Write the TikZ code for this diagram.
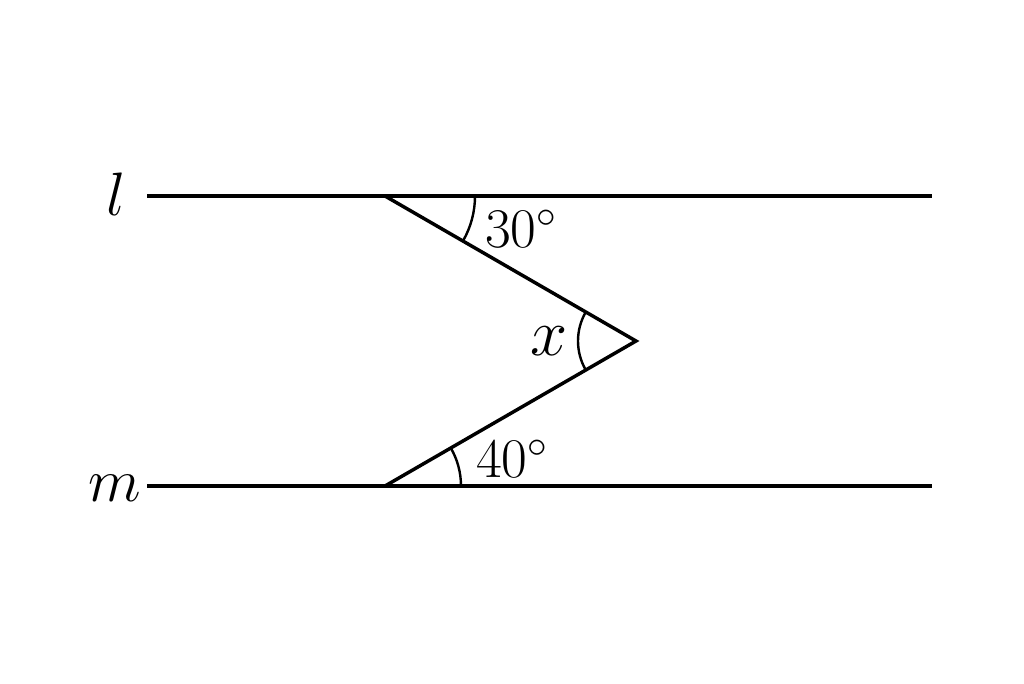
\documentclass[tikz,border=0pt]{standalone}
\usepackage{fix-cm}
\usepackage{amsmath}
\usepackage{tikz}

\tikzset{
  ruleline/.style={line width=2.6pt},
  anglearc/.style={line width=1.8pt},
  degtext/.style={inner sep=0pt,font=\fontsize{42}{44}\selectfont},
  lettext/.style={inner sep=0pt,font=\fontsize{46}{48}\selectfont}
}

\begin{document}
\begin{tikzpicture}[x=0.75pt,y=0.75pt,yscale=-1,xscale=1]
\useasboundingbox (0,0) rectangle (1024,683);

% Points
\coordinate (lL) at (147,196);
\coordinate (lR) at (932,196);
\coordinate (mL) at (147,486);
\coordinate (mR) at (932,486);
\coordinate (A) at (385,196);
\coordinate (B) at (636,341);
\coordinate (C) at (385,486);

%Straight Lines
\draw [ruleline] (lL) -- (lR) ;
%Straight Lines
\draw [ruleline] (mL) -- (mR) ;
%Straight Lines
\draw [ruleline,line join=miter] (A) -- (B) -- (C) ;

%Arc
\draw [anglearc] ([shift={(0:90)}]A) arc[start angle=0,end angle=30,radius=90] ;
%Arc
\draw [anglearc] ([shift={(150:58)}]B) arc[start angle=150,end angle=210,radius=58] ;
%Arc
\draw [anglearc] ([shift={(0:76)}]C) arc[start angle=0,end angle=-30,radius=76] ;

% Text Node
\node [lettext] (labl) at (116,194) {$l$};
% Text Node
\node [lettext] (labm) at (115,488) {$m$};
% Text Node
\node [degtext] (ang30) at (521,229) {$30^{\circ}$};
% Text Node
\node [degtext] (ang40) at (512,459) {$40^{\circ}$};
% Text Node
\node [lettext,font=\fontsize{50}{52}\selectfont] (angx) at (549,341) {$x$};

\end{tikzpicture}
\end{document}
